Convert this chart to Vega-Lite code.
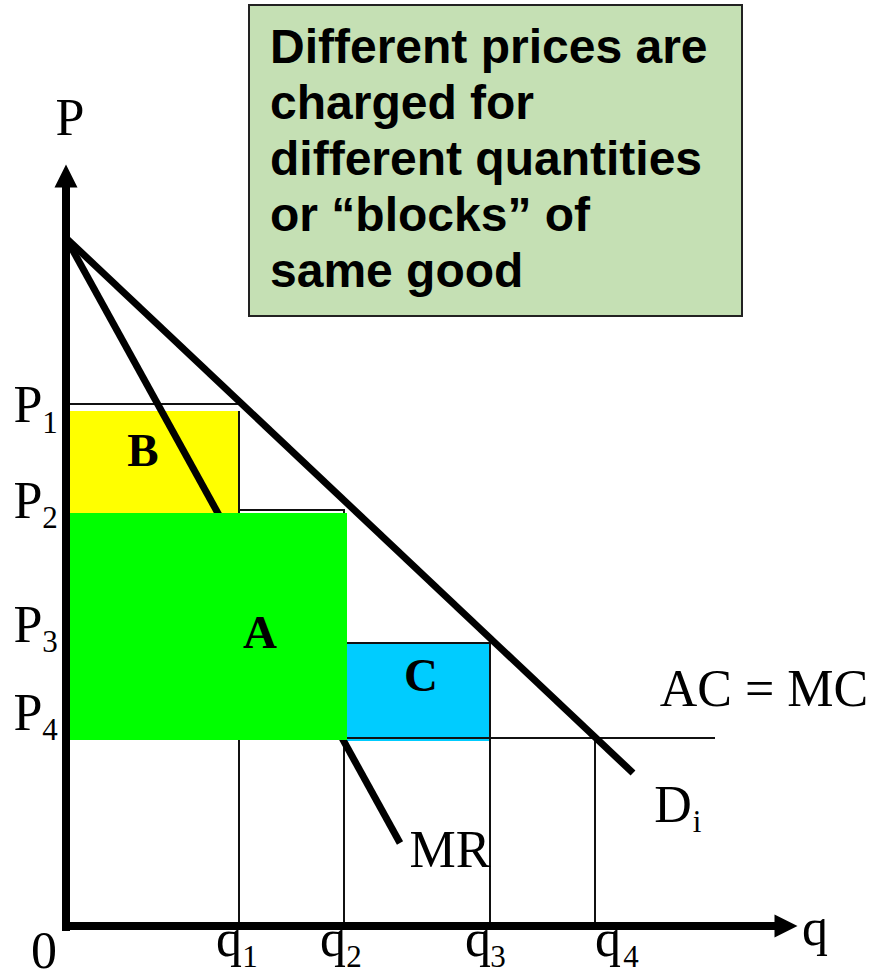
{
  "$schema": "https://vega.github.io/schema/vega-lite/v6.json",
  "width": 874,
  "height": 970,
  "padding": 0,
  "autosize": {"type": "none"},
  "background": "white",
  "config": {"view": {"stroke": null}},
  "datasets": {
    "blocks": [
      {"block": "B", "q": 2, "q2": 174, "p": 413, "p2": 515},
      {"block": "A", "q": 0, "q2": 281, "p": 186, "p2": 413},
      {"block": "C", "q": 281, "q2": 424, "p": 185, "p2": 283}
    ],
    "guides": [
      {"g": "P1", "q": 2, "q2": 174, "p": 522, "p2": 522},
      {"g": "q1", "q": 173, "q2": 173, "p": 0, "p2": 515},
      {"g": "P2", "q": 174, "q2": 279, "p": 416, "p2": 416},
      {"g": "q2", "q": 278, "q2": 278, "p": 0, "p2": 416},
      {"g": "P3", "q": 281, "q2": 424, "p": 283, "p2": 283},
      {"g": "q3", "q": 424, "q2": 424, "p": 0, "p2": 283},
      {"g": "ACMC", "q": 0, "q2": 649, "p": 188, "p2": 188},
      {"g": "q4", "q": 529, "q2": 529, "p": 0, "p2": 188}
    ],
    "curves": [
      {"curve": "D", "q": 0, "p": 688},
      {"curve": "D", "q": 567, "p": 153},
      {"curve": "MR", "q": 0, "p": 688},
      {"curve": "MR", "q": 334, "p": 83}
    ],
    "axes": [
      {"axis": "P", "q": 0, "q2": 0, "p": -5, "p2": 745},
      {"axis": "q", "q": -4, "q2": 715, "p": 0, "p2": 0}
    ],
    "mainLabels": [
      {"label": "P", "q": 4, "p": 791},
      {"label": "P", "q": -38, "p": 504},
      {"label": "P", "q": -38, "p": 408},
      {"label": "P", "q": -38, "p": 284},
      {"label": "P", "q": -38, "p": 196},
      {"label": "0", "q": -22, "p": -42},
      {"label": "q", "q": 163, "p": -30},
      {"label": "q", "q": 267, "p": -30},
      {"label": "q", "q": 412, "p": -30},
      {"label": "q", "q": 542, "p": -30},
      {"label": "q", "q": 749, "p": -19},
      {"label": "AC = MC", "q": 698, "p": 220},
      {"label": "D", "q": 607, "p": 104},
      {"label": "MR", "q": 384, "p": 59}
    ],
    "subLabels": [
      {"label": "1", "q": -16, "p": 493},
      {"label": "2", "q": -16, "p": 398},
      {"label": "3", "q": -16, "p": 274},
      {"label": "4", "q": -16, "p": 186},
      {"label": "1", "q": 184, "p": -41},
      {"label": "2", "q": 288, "p": -41},
      {"label": "3", "q": 432, "p": -41},
      {"label": "4", "q": 565, "p": -41},
      {"label": "i", "q": 631, "p": 94}
    ],
    "areaLabels": [
      {"label": "B", "q": 77, "p": 460},
      {"label": "A", "q": 194, "p": 278},
      {"label": "C", "q": 355, "p": 235}
    ],
    "note": [
      {"q": 183, "q2": 676, "p": 610, "p2": 921, "tq": 204, "tp": 863,
       "text": "Different prices are\ncharged for\ndifferent quantities\nor “blocks” of\nsame good"}
    ]
  },
  "layer": [
    {
      "data": {"name": "blocks"},
      "transform": [{"filter": "datum.block === 'B'"}],
      "mark": {"type": "rect", "color": "#ffff00"},
      "encoding": {
        "x": {"field": "q", "type": "quantitative", "scale": {"domain": [-66, 808], "nice": false, "zero": false}, "axis": null},
        "x2": {"field": "q2"},
        "y": {"field": "p", "type": "quantitative", "scale": {"domain": [-44, 926], "nice": false, "zero": false}, "axis": null},
        "y2": {"field": "p2"}
      }
    },
    {
      "data": {"name": "blocks"},
      "transform": [{"filter": "datum.block === 'C'"}],
      "mark": {"type": "rect", "color": "#00ccff"},
      "encoding": {
        "x": {"field": "q", "type": "quantitative"},
        "x2": {"field": "q2"},
        "y": {"field": "p", "type": "quantitative"},
        "y2": {"field": "p2"}
      }
    },
    {
      "data": {"name": "guides"},
      "mark": {"type": "rule", "color": "#111111", "strokeWidth": 2},
      "encoding": {
        "x": {"field": "q", "type": "quantitative"},
        "x2": {"field": "q2"},
        "y": {"field": "p", "type": "quantitative"},
        "y2": {"field": "p2"}
      }
    },
    {
      "data": {"name": "curves"},
      "mark": {"type": "line", "color": "black", "strokeWidth": 7},
      "encoding": {
        "x": {"field": "q", "type": "quantitative"},
        "y": {"field": "p", "type": "quantitative"},
        "detail": {"field": "curve"}
      }
    },
    {
      "data": {"name": "blocks"},
      "transform": [{"filter": "datum.block === 'A'"}],
      "mark": {"type": "rect", "color": "#00ff00"},
      "encoding": {
        "x": {"field": "q", "type": "quantitative"},
        "x2": {"field": "q2"},
        "y": {"field": "p", "type": "quantitative"},
        "y2": {"field": "p2"}
      }
    },
    {
      "data": {"name": "axes"},
      "mark": {"type": "rule", "color": "black", "strokeWidth": 8, "strokeCap": "butt"},
      "encoding": {
        "x": {"field": "q", "type": "quantitative"},
        "x2": {"field": "q2"},
        "y": {"field": "p", "type": "quantitative"},
        "y2": {"field": "p2"}
      }
    },
    {
      "data": {"values": [{"axis": "P", "q": 0, "p": 750}]},
      "mark": {"type": "point", "shape": "M0,-1L1,1L-1,1Z", "size": 529, "filled": true, "color": "black", "opacity": 1, "strokeWidth": 0},
      "encoding": {
        "x": {"field": "q", "type": "quantitative"},
        "y": {"field": "p", "type": "quantitative"}
      }
    },
    {
      "data": {"values": [{"axis": "q", "q": 720, "p": 0}]},
      "mark": {"type": "point", "shape": "M1,0L-1,-1L-1,1Z", "size": 529, "filled": true, "color": "black", "opacity": 1, "strokeWidth": 0},
      "encoding": {
        "x": {"field": "q", "type": "quantitative"},
        "y": {"field": "p", "type": "quantitative"}
      }
    },
    {
      "data": {"name": "mainLabels"},
      "mark": {"type": "text", "font": "Liberation Serif", "fontSize": 52, "align": "center", "baseline": "alphabetic", "color": "black"},
      "encoding": {
        "x": {"field": "q", "type": "quantitative"},
        "y": {"field": "p", "type": "quantitative"},
        "text": {"field": "label"}
      }
    },
    {
      "data": {"name": "subLabels"},
      "mark": {"type": "text", "font": "Liberation Serif", "fontSize": 31, "align": "center", "baseline": "alphabetic", "color": "black"},
      "encoding": {
        "x": {"field": "q", "type": "quantitative"},
        "y": {"field": "p", "type": "quantitative"},
        "text": {"field": "label"}
      }
    },
    {
      "data": {"name": "areaLabels"},
      "mark": {"type": "text", "font": "Liberation Serif", "fontWeight": "bold", "fontSize": 47, "align": "center", "baseline": "alphabetic", "color": "black"},
      "encoding": {
        "x": {"field": "q", "type": "quantitative"},
        "y": {"field": "p", "type": "quantitative"},
        "text": {"field": "label"}
      }
    },
    {
      "data": {"name": "note"},
      "mark": {"type": "rect", "fill": "#c5e0b4", "stroke": "#222222", "strokeWidth": 2},
      "encoding": {
        "x": {"field": "q", "type": "quantitative"},
        "x2": {"field": "q2"},
        "y": {"field": "p", "type": "quantitative"},
        "y2": {"field": "p2"}
      }
    },
    {
      "data": {"name": "note"},
      "mark": {"type": "text", "font": "Liberation Sans", "fontWeight": "bold", "fontSize": 48, "lineHeight": 56, "lineBreak": "\n", "align": "left", "baseline": "alphabetic", "color": "black"},
      "encoding": {
        "x": {"field": "tq", "type": "quantitative"},
        "y": {"field": "tp", "type": "quantitative"},
        "text": {"field": "text"}
      }
    }
  ]
}
